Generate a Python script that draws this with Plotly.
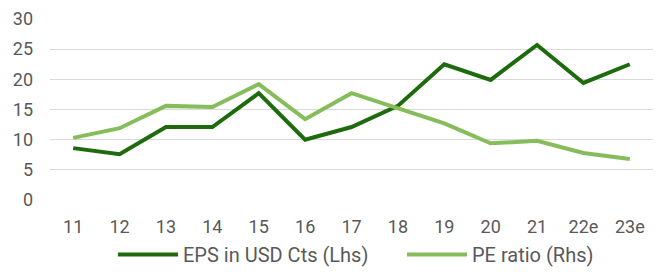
import plotly.graph_objects as go

categories = ["11", "12", "13", "14", "15", "16", "17", "18", "19", "20", "21", "22e", "23e"]
eps = [8.6, 7.6, 12.1, 12.1, 17.7, 10.0, 12.1, 15.6, 22.5, 19.9, 25.7, 19.4, 22.5]
pe = [10.3, 11.9, 15.6, 15.4, 19.2, 13.4, 17.7, 15.2, 12.7, 9.4, 9.8, 7.8, 6.8]
y_ticks = [0, 5, 10, 15, 20, 25, 30]

fig = go.Figure()
fig.add_trace(go.Scatter(x=categories, y=eps, mode="lines", name="EPS in USD Cts (Lhs)",
                         line=dict(color="#1e6b0e", width=4), legend="legend"))
fig.add_trace(go.Scatter(x=categories, y=pe, mode="lines", name="PE ratio (Rhs)",
                         line=dict(color="#86bc5a", width=4), legend="legend2"))

leg_common = dict(orientation="h", xanchor="left", xref="container",
                  y=0.075, yanchor="middle", yref="container",
                  font=dict(size=20, color="#595959"), itemwidth=60,
                  bgcolor="rgba(0,0,0,0)")

fig.update_layout(
    width=668, height=275,
    margin=dict(l=50, r=15, t=19, b=75, autoexpand=False),
    paper_bgcolor="white", plot_bgcolor="white",
    font=dict(family="Roboto", size=18, color="#595959"),
    showlegend=True,
    legend=dict(x=113 / 668, **leg_common),
    legend2=dict(x=402 / 668, **leg_common),
    xaxis=dict(type="category", showgrid=False, showline=False, zeroline=False,
               ticks="", ticklabelstandoff=14, range=[-0.5, 12.5]),
    yaxis=dict(range=[0, 30], tickvals=y_ticks, showgrid=True, gridcolor="#d9d9d9",
               gridwidth=1, zeroline=False, showline=False, ticks="", ticklabelstandoff=16),
)

fig.write_html("out.html")
